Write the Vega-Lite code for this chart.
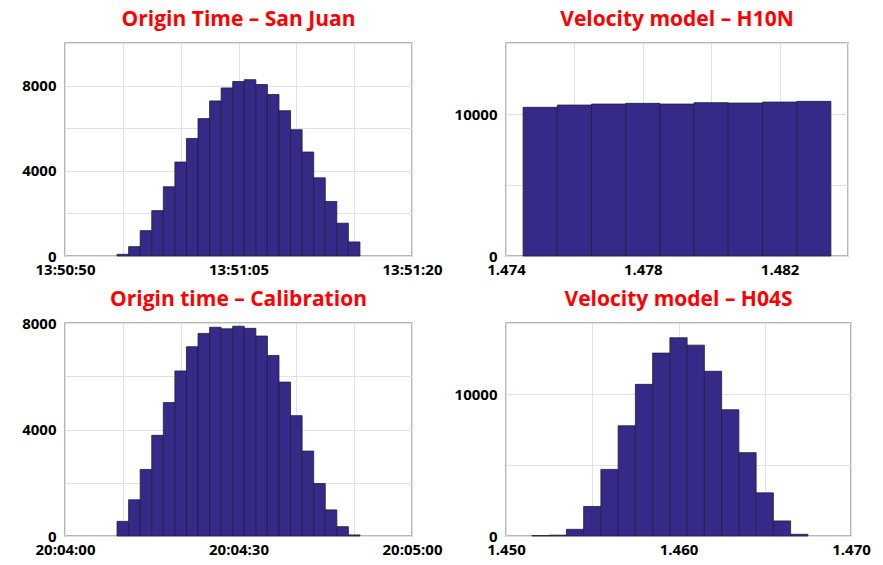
{
  "$schema": "https://vega.github.io/schema/vega-lite/v6.json",
  "background": "white",
  "padding": {"left": 20, "top": 8, "right": 10, "bottom": 2},
  "datasets": {
    "p1": [
      {"lo": 4.5, "hi": 5.5, "count": 80}, {"lo": 5.5, "hi": 6.5, "count": 440},
      {"lo": 6.5, "hi": 7.5, "count": 1190}, {"lo": 7.5, "hi": 8.5, "count": 2130},
      {"lo": 8.5, "hi": 9.5, "count": 3250}, {"lo": 9.5, "hi": 10.5, "count": 4410},
      {"lo": 10.5, "hi": 11.5, "count": 5520}, {"lo": 11.5, "hi": 12.5, "count": 6450},
      {"lo": 12.5, "hi": 13.5, "count": 7280}, {"lo": 13.5, "hi": 14.5, "count": 7890},
      {"lo": 14.5, "hi": 15.5, "count": 8190}, {"lo": 15.5, "hi": 16.5, "count": 8280},
      {"lo": 16.5, "hi": 17.5, "count": 8050}, {"lo": 17.5, "hi": 18.5, "count": 7580},
      {"lo": 18.5, "hi": 19.5, "count": 6820}, {"lo": 19.5, "hi": 20.5, "count": 5930},
      {"lo": 20.5, "hi": 21.5, "count": 4880}, {"lo": 21.5, "hi": 22.5, "count": 3670},
      {"lo": 22.5, "hi": 23.5, "count": 2560}, {"lo": 23.5, "hi": 24.5, "count": 1540},
      {"lo": 24.5, "hi": 25.5, "count": 660}
    ],
    "p2": [
      {"lo": 1.4745, "hi": 1.4755, "count": 10470}, {"lo": 1.4755, "hi": 1.4765, "count": 10630},
      {"lo": 1.4765, "hi": 1.4775, "count": 10700}, {"lo": 1.4775, "hi": 1.4785, "count": 10750},
      {"lo": 1.4785, "hi": 1.4795, "count": 10700}, {"lo": 1.4795, "hi": 1.4805, "count": 10800},
      {"lo": 1.4805, "hi": 1.4815, "count": 10770}, {"lo": 1.4815, "hi": 1.4825, "count": 10840},
      {"lo": 1.4825, "hi": 1.4835, "count": 10890}
    ],
    "p3": [
      {"lo": 9, "hi": 11, "count": 550}, {"lo": 11, "hi": 13, "count": 1360},
      {"lo": 13, "hi": 15, "count": 2500}, {"lo": 15, "hi": 17, "count": 3780},
      {"lo": 17, "hi": 19, "count": 5010}, {"lo": 19, "hi": 21, "count": 6200},
      {"lo": 21, "hi": 23, "count": 7110}, {"lo": 23, "hi": 25, "count": 7610},
      {"lo": 25, "hi": 27, "count": 7840}, {"lo": 27, "hi": 29, "count": 7780},
      {"lo": 29, "hi": 31, "count": 7880}, {"lo": 31, "hi": 33, "count": 7800},
      {"lo": 33, "hi": 35, "count": 7510}, {"lo": 35, "hi": 37, "count": 6780},
      {"lo": 37, "hi": 39, "count": 5780}, {"lo": 39, "hi": 41, "count": 4520},
      {"lo": 41, "hi": 43, "count": 3190}, {"lo": 43, "hi": 45, "count": 1970},
      {"lo": 45, "hi": 47, "count": 980}, {"lo": 47, "hi": 49, "count": 350},
      {"lo": 49, "hi": 51, "count": 40}
    ],
    "p4": [
      {"lo": 1.4515, "hi": 1.4525, "count": 30}, {"lo": 1.4525, "hi": 1.4535, "count": 60},
      {"lo": 1.4535, "hi": 1.4545, "count": 470}, {"lo": 1.4545, "hi": 1.4555, "count": 2080},
      {"lo": 1.4555, "hi": 1.4565, "count": 4690}, {"lo": 1.4565, "hi": 1.4575, "count": 7760},
      {"lo": 1.4575, "hi": 1.4585, "count": 10680}, {"lo": 1.4585, "hi": 1.4595, "count": 12880},
      {"lo": 1.4595, "hi": 1.4605, "count": 13960}, {"lo": 1.4605, "hi": 1.4615, "count": 13440},
      {"lo": 1.4615, "hi": 1.4625, "count": 11600}, {"lo": 1.4625, "hi": 1.4635, "count": 8890},
      {"lo": 1.4635, "hi": 1.4645, "count": 5870}, {"lo": 1.4645, "hi": 1.4655, "count": 3040},
      {"lo": 1.4655, "hi": 1.4665, "count": 1060}, {"lo": 1.4665, "hi": 1.4675, "count": 120}
    ]
  },
  "config": {
    "font": "Open Sans",
    "view": {"stroke": "#a0a0a0", "strokeWidth": 1.5},
    "title": {"color": "#ff0000", "fontSize": 21, "fontWeight": "bold", "font": "Open Sans", "offset": 6},
    "axis": {
      "labelFont": "Open Sans", "labelFontSize": 15, "labelFontWeight": "bold", "labelColor": "black",
      "title": null, "ticks": false, "domain": false, "gridColor": "#e2e2e2",
      "labelOverlap": false, "labelFlush": false
    },
    "axisX": {"labelPadding": 6},
    "axisY": {"labelPadding": 9},
    "bar": {"color": "#352a87", "stroke": "#1e1e3c", "strokeWidth": 0.8}
  },
  "spacing": 10,
  "vconcat": [
    {
      "spacing": 10,
      "hconcat": [
        {
          "title": "Origin Time – San Juan",
          "width": 347, "height": 213,
          "data": {"name": "p1"},
          "mark": "bar",
          "encoding": {
            "x": {"field": "lo", "type": "quantitative", "scale": {"domain": [0, 30], "nice": false, "zero": false},
              "axis": {"values": [0, 5, 10, 15, 20, 25, 30],
                "labelExpr": "datum.value == 0 ? '13:50:50' : datum.value == 15 ? '13:51:05' : datum.value == 30 ? '13:51:20' : ''"}},
            "x2": {"field": "hi"},
            "y": {"field": "count", "type": "quantitative", "scale": {"domain": [0, 10000], "nice": false},
              "axis": {"values": [0, 2000, 4000, 6000, 8000, 10000],
                "labelExpr": "datum.value == 0 || datum.value == 4000 || datum.value == 8000 ? datum.value : ''"}},
            "y2": {"datum": 0}
          }
        },
        {
          "title": "Velocity model – H10N",
          "width": 342, "height": 213,
          "data": {"name": "p2"},
          "mark": "bar",
          "encoding": {
            "x": {"field": "lo", "type": "quantitative", "scale": {"domain": [1.474, 1.484], "nice": false, "zero": false},
              "axis": {"values": [1.474, 1.476, 1.478, 1.48, 1.482, 1.484],
                "labelExpr": "abs(datum.value - 1.474) < 1e-6 || abs(datum.value - 1.478) < 1e-6 || abs(datum.value - 1.482) < 1e-6 ? format(datum.value, '.3f') : ''"}},
            "x2": {"field": "hi"},
            "y": {"field": "count", "type": "quantitative", "scale": {"domain": [0, 15000], "nice": false},
              "axis": {"values": [0, 5000, 10000, 15000],
                "labelExpr": "datum.value == 0 || datum.value == 10000 ? datum.value : ''"}},
            "y2": {"datum": 0}
          }
        }
      ]
    },
    {
      "spacing": 10,
      "hconcat": [
        {
          "title": "Origin time – Calibration",
          "width": 347, "height": 213,
          "data": {"name": "p3"},
          "mark": "bar",
          "encoding": {
            "x": {"field": "lo", "type": "quantitative", "scale": {"domain": [0, 60], "nice": false, "zero": false},
              "axis": {"values": [0, 10, 20, 30, 40, 50, 60],
                "labelExpr": "datum.value == 0 ? '20:04:00' : datum.value == 30 ? '20:04:30' : datum.value == 60 ? '20:05:00' : ''"}},
            "x2": {"field": "hi"},
            "y": {"field": "count", "type": "quantitative", "scale": {"domain": [0, 8000], "nice": false},
              "axis": {"values": [0, 2000, 4000, 6000, 8000],
                "labelExpr": "datum.value == 0 || datum.value == 4000 || datum.value == 8000 ? datum.value : ''"}},
            "y2": {"datum": 0}
          }
        },
        {
          "title": "Velocity model – H04S",
          "width": 345, "height": 213,
          "data": {"name": "p4"},
          "mark": "bar",
          "encoding": {
            "x": {"field": "lo", "type": "quantitative", "scale": {"domain": [1.45, 1.47], "nice": false, "zero": false},
              "axis": {"values": [1.45, 1.455, 1.46, 1.465, 1.47],
                "labelExpr": "abs(datum.value - 1.455) < 1e-6 || abs(datum.value - 1.465) < 1e-6 ? '' : format(datum.value, '.3f')"}},
            "x2": {"field": "hi"},
            "y": {"field": "count", "type": "quantitative", "scale": {"domain": [0, 15000], "nice": false},
              "axis": {"values": [0, 5000, 10000, 15000],
                "labelExpr": "datum.value == 0 || datum.value == 10000 ? datum.value : ''"}},
            "y2": {"datum": 0}
          }
        }
      ]
    }
  ]
}
